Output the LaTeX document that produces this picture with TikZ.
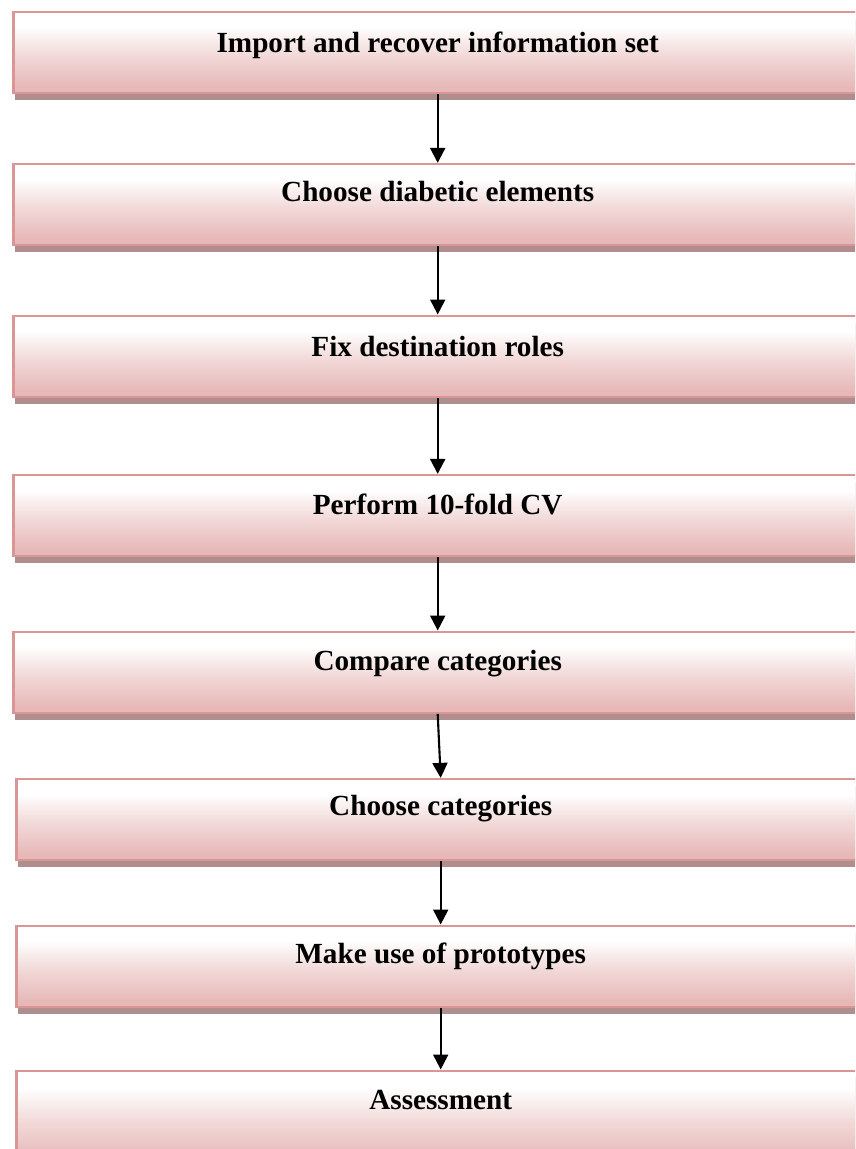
\documentclass[tikz,border=0pt]{standalone}
\usepackage{fontspec}
\setmainfont{Liberation Serif}
\usetikzlibrary{arrows.meta,shadows}

% colours of the step boxes
\definecolor{boxedge}{HTML}{DA9695}
\definecolor{boxpink}{HTML}{E6B8B7}
\definecolor{boxmid}{HTML}{F1D9D8}
\definecolor{boxshadow}{HTML}{B08E8D}

% white at the top fading into pink towards the bottom
\pgfdeclareverticalshading{stepshade}{100bp}{%
  color(0bp)=(boxpink); color(28bp)=(boxpink); color(48bp)=(boxmid);
  color(66bp)=(white); color(100bp)=(white)}

\tikzset{
  stepbox/.style={
    draw=boxedge, line width=2.4pt, shading=stepshade,
    rectangle, anchor=north west, inner sep=0pt,
    minimum width=900pt, minimum height=81pt,
    drop shadow={shadow xshift=2pt, shadow yshift=-7pt,
                 fill=boxshadow, opacity=1}},
  steplabel/.style={anchor=base, font=\bfseries\fontsize{29.2}{34}\selectfont,
                    inner sep=0pt},
  flow/.style={line width=2.1pt, -{Triangle[width=15pt,length=15pt]}}
}

\begin{document}
\begin{tikzpicture}[x=1pt,y=-1pt]
  \useasboundingbox (0,0) rectangle (855,1149);
  \begin{scope}
  \clip (0,0) rectangle (855,1149);

  % boxes (they run on past the right and bottom edges)
  \node[stepbox] (b1) at (12.2,10.5)   {};
  \node[stepbox] (b2) at (12.2,162.9)  {};
  \node[stepbox] (b3) at (12.2,314.5)  {};
  \node[stepbox] (b4) at (12.2,473.9)  {};
  \node[stepbox] (b5) at (12.2,630.5)  {};
  \node[stepbox] (b6) at (15.2,777.9)  {};
  \node[stepbox] (b7) at (15.2,924.5)  {};
  \node[stepbox, minimum height=95pt] (b8) at (15.2,1069.5) {};

  % labels, centred on the column line 425.5pt right of each box's left side
  \node[steplabel] (t1) at ([xshift=425.5pt,yshift=-42pt]b1.north west) {Import and recover information set};
  \node[steplabel] (t2) at ([xshift=425.5pt,yshift=-39pt]b2.north west) {Choose diabetic elements};
  \node[steplabel] (t3) at ([xshift=425.5pt,yshift=-42pt]b3.north west) {Fix destination roles};
  \node[steplabel] (t4) at ([xshift=425.5pt,yshift=-41pt]b4.north west) {Perform 10-fold CV};
  \node[steplabel] (t5) at ([xshift=425.5pt,yshift=-40pt]b5.north west) {Compare categories};
  \node[steplabel] (t6) at ([xshift=425.5pt,yshift=-38pt]b6.north west) {Choose categories};
  \node[steplabel] (t7) at ([xshift=425.5pt,yshift=-39pt]b7.north west) {Make use of prototypes};
  \node[steplabel] (t8) at ([xshift=425.5pt,yshift=-40pt]b8.north west) {Assessment};

  % connectors
  \draw[flow] ([xshift=425.5pt]b1.south west) -- ([xshift=425.5pt]b2.north west);
  \draw[flow] ([xshift=425.5pt]b2.south west) -- ([xshift=425.5pt]b3.north west);
  \draw[flow] ([xshift=425.5pt]b3.south west) -- ([xshift=425.5pt]b4.north west);
  \draw[flow] ([xshift=425.5pt]b4.south west) -- ([xshift=425.5pt]b5.north west);
  \draw[flow] ([xshift=425.5pt]b5.south west) -- ([xshift=425.5pt]b6.north west);
  \draw[flow] ([xshift=425.5pt]b6.south west) -- ([xshift=425.5pt]b7.north west);
  \draw[flow] ([xshift=425.5pt]b7.south west) -- ([xshift=425.5pt]b8.north west);
  \end{scope}
\end{tikzpicture}
\end{document}
